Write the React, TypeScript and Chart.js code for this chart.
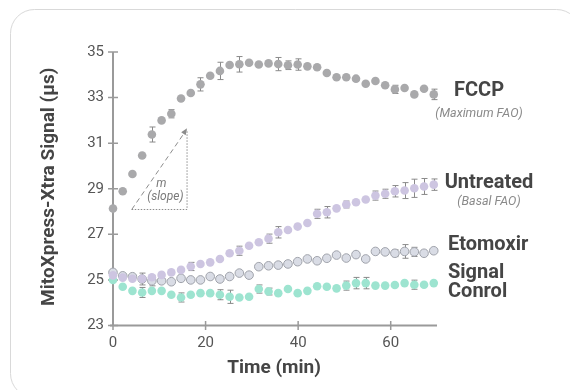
import { useEffect, useRef } from "react";
import { Chart, registerables } from "chart.js";
Chart.register(...registerables);

const times = [0, 2.1, 4.2, 6.3, 8.4, 10.5, 12.6, 14.7, 16.8, 18.9, 21, 23.1, 25.2, 27.3, 29.4, 31.5, 33.6, 35.7, 37.8, 39.9, 42, 44.1, 46.2, 48.3, 50.4, 52.5, 54.6, 56.7, 58.8, 60.9, 63, 65.1, 67.2, 69.3];

const fccp = [28.13, 28.89, 29.65, 30.46, 31.38, 32.0, 32.29, 32.96, 33.2, 33.58, 33.96, 34.17, 34.43, 34.46, 34.53, 34.45, 34.5, 34.47, 34.42, 34.45, 34.37, 34.33, 34.08, 33.89, 33.89, 33.83, 33.61, 33.73, 33.54, 33.36, 33.42, 33.14, 33.39, 33.14];
const fccpErr = [0, 0, 0, 0, 0.33, 0, 0.18, 0, 0, 0.29, 0, 0.38, 0, 0.34, 0, 0, 0, 0.29, 0.19, 0.25, 0, 0, 0, 0, 0, 0, 0, 0, 0, 0.18, 0, 0, 0, 0.23];

const untreated = [25.2, 25.1, 25.05, 25.05, 25.12, 25.22, 25.33, 25.44, 25.59, 25.7, 25.77, 25.92, 26.17, 26.28, 26.5, 26.65, 26.81, 27.09, 27.19, 27.34, 27.5, 27.9, 27.97, 28.14, 28.31, 28.41, 28.53, 28.7, 28.78, 28.89, 28.92, 29.02, 29.1, 29.18];
const untreatedErr = [0, 0, 0, 0, 0, 0, 0, 0, 0.18, 0, 0, 0, 0, 0.2, 0, 0, 0.2, 0.25, 0, 0, 0, 0.2, 0.25, 0, 0.15, 0, 0, 0.2, 0.2, 0.25, 0.35, 0.4, 0.35, 0.25];

const etomoxir = [25.33, 25.18, 25.14, 25.04, 24.96, 24.96, 24.92, 25.07, 25.0, 25.0, 25.15, 25.04, 25.15, 25.3, 25.21, 25.58, 25.62, 25.65, 25.7, 25.8, 25.92, 25.84, 25.95, 26.09, 25.96, 26.11, 25.92, 26.25, 26.23, 26.17, 26.25, 26.23, 26.17, 26.28];
const etomoxirErr = [0, 0, 0, 0.26, 0.22, 0, 0, 0, 0, 0, 0, 0, 0, 0, 0, 0, 0, 0, 0, 0, 0, 0, 0, 0, 0, 0, 0, 0, 0, 0.15, 0.3, 0.2, 0, 0];

const signalControl = [25.0, 24.7, 24.52, 24.45, 24.52, 24.52, 24.35, 24.23, 24.35, 24.42, 24.42, 24.35, 24.26, 24.23, 24.26, 24.6, 24.49, 24.42, 24.6, 24.42, 24.52, 24.72, 24.7, 24.63, 24.75, 24.86, 24.86, 24.75, 24.75, 24.78, 24.86, 24.79, 24.79, 24.86];
const signalControlErr = [0, 0, 0, 0.22, 0, 0, 0, 0.2, 0, 0, 0, 0.22, 0.29, 0, 0, 0.18, 0.15, 0, 0, 0, 0, 0, 0, 0, 0.2, 0.25, 0.25, 0, 0, 0, 0, 0.2, 0, 0];

const xTicks = [0, 20, 40, 60];
const yTicks = [23, 25, 27, 29, 31, 33, 35];

const slopeStart = { x: 4.05, y: 28.09 };
const slopeEnd = { x: 16.0, y: 31.65 };

const FONT = "Roboto, 'Noto Sans', sans-serif";

const toPts = (ys: number[]) => ys.map((y, i) => ({ x: times[i], y }));

const errMap: Record<string, number[]> = {
  FCCP: fccpErr,
  Untreated: untreatedErr,
  Etomoxir: etomoxirErr,
  "Signal Control": signalControlErr,
};

const cardPlugin = {
  id: "card",
  beforeDraw(chart: any) {
    const ctx = chart.ctx;
    ctx.save();
    ctx.fillStyle = "#ffffff";
    ctx.fillRect(0, 0, chart.width, chart.height);
    ctx.beginPath();
    ctx.roundRect(10.5, 9.5, 570, 388, 24);
    ctx.strokeStyle = "#d9d9d9";
    ctx.lineWidth = 1;
    ctx.stroke();
    ctx.restore();
  },
};

const errorBarPlugin = {
  id: "errorBars",
  beforeDatasetsDraw(chart: any) {
    const ctx = chart.ctx;
    const xs = chart.scales.x;
    const ys = chart.scales.y;
    ctx.save();
    ctx.strokeStyle = "#8a8a8a";
    ctx.lineWidth = 1;
    chart.data.datasets.forEach((ds: any) => {
      const errs = errMap[ds.label];
      if (!errs) return;
      ds.data.forEach((p: any, i: number) => {
        const e = errs[i];
        if (!e) return;
        const px = Math.round(xs.getPixelForValue(p.x)) + 0.5;
        const top = ys.getPixelForValue(p.y + e);
        const bot = ys.getPixelForValue(p.y - e);
        ctx.beginPath();
        ctx.moveTo(px, top);
        ctx.lineTo(px, bot);
        ctx.moveTo(px - 3, top);
        ctx.lineTo(px + 3, top);
        ctx.moveTo(px - 3, bot);
        ctx.lineTo(px + 3, bot);
        ctx.stroke();
      });
    });
    ctx.restore();
  },
};

const overlayPlugin = {
  id: "overlay",
  beforeDatasetsDraw(chart: any) {
    const ctx = chart.ctx;
    const xs = chart.scales.x;
    const ys = chart.scales.y;
    const area = chart.chartArea;
    ctx.save();
    // axes
    ctx.strokeStyle = "#9a9a9a";
    ctx.lineWidth = 2;
    const x0 = xs.getPixelForValue(0);
    const yb = ys.getPixelForValue(23);
    ctx.beginPath();
    ctx.moveTo(x0, ys.getPixelForValue(35));
    ctx.lineTo(x0, yb + 1);
    ctx.moveTo(x0 - 3, yb);
    ctx.lineTo(area.right, yb);
    ctx.stroke();
    ctx.lineWidth = 1.5;
    ctx.beginPath();
    yTicks.forEach((v) => {
      const py = ys.getPixelForValue(v);
      ctx.moveTo(x0 - 5, py);
      ctx.lineTo(x0 + 5, py);
    });
    xTicks.forEach((v) => {
      const px = xs.getPixelForValue(v);
      ctx.moveTo(px, yb - 4.5);
      ctx.lineTo(px, yb + 4.5);
    });
    ctx.stroke();

    // slope annotation
    const sx = xs.getPixelForValue(slopeStart.x);
    const sy = ys.getPixelForValue(slopeStart.y);
    const ex = xs.getPixelForValue(slopeEnd.x);
    const ey = ys.getPixelForValue(slopeEnd.y);
    ctx.strokeStyle = "#8c8c8c";
    ctx.lineWidth = 1;
    ctx.setLineDash([1.5, 1.5]);
    ctx.beginPath();
    ctx.moveTo(sx, sy);
    ctx.lineTo(ex, sy);
    ctx.lineTo(ex, ey + 3);
    ctx.stroke();
    ctx.setLineDash([5, 3.5]);
    ctx.beginPath();
    ctx.moveTo(sx, sy);
    ctx.lineTo(ex - 1, ey + 2);
    ctx.stroke();
    ctx.setLineDash([]);
    const ang = Math.atan2(ey - sy, ex - sx);
    ctx.fillStyle = "#8c8c8c";
    ctx.beginPath();
    ctx.moveTo(ex, ey);
    ctx.lineTo(ex - 7 * Math.cos(ang - 0.4), ey - 7 * Math.sin(ang - 0.4));
    ctx.lineTo(ex - 7 * Math.cos(ang + 0.4), ey - 7 * Math.sin(ang + 0.4));
    ctx.closePath();
    ctx.fill();
    ctx.fillStyle = "#7a7a7a";
    ctx.font = `italic 12px ${FONT}`;
    ctx.textAlign = "center";
    ctx.textBaseline = "middle";
    ctx.fillText("m", (sx + ex) / 2 + 2, sy - 25);
    ctx.fillText("(slope)", (sx + ex) / 2 + 6, sy - 12);
    ctx.restore();
  },
  afterDraw(chart: any) {
    const ctx = chart.ctx;
    const area = chart.chartArea;
    ctx.save();
    ctx.fillStyle = "#454545";
    ctx.font = `bold 19px ${FONT}`;
    ctx.textAlign = "center";
    ctx.textBaseline = "middle";
    ctx.fillText("Time (min)", (area.left + area.right) / 2 - 1, 368);
    ctx.save();
    ctx.translate(49, (area.top + area.bottom) / 2 - 2);
    ctx.rotate(-Math.PI / 2);
    ctx.fillText("MitoXpress-Xtra Signal (\u00b5s)", 0, 0);
    ctx.restore();

    // series labels
    ctx.font = `bold 20px ${FONT}`;
    ctx.fillText("FCCP", 479, 91);
    ctx.fillText("Untreated", 489, 183);
    ctx.textAlign = "left";
    ctx.fillText("Etomoxir", 448, 245);
    ctx.fillText("Signal", 448, 273);
    ctx.fillText("Conrol", 448, 292);
    ctx.textAlign = "center";
    ctx.fillStyle = "#8a8a8a";
    ctx.font = `italic 12.5px ${FONT}`;
    ctx.fillText("(Maximum FAO)", 479, 114);
    ctx.fillText("(Basal FAO)", 489, 202);
    ctx.restore();
  },
};

export default function App() {
  const ref = useRef<HTMLCanvasElement | null>(null);
  useEffect(() => {
    if (!ref.current) return;
    const chart = new Chart(ref.current, {
      type: "scatter",
      data: {
        datasets: [
          {
            label: "FCCP",
            data: toPts(fccp),
            backgroundColor: "#a9a9ab",
            borderColor: "#a9a9ab",
            pointRadius: 4.3,
            pointBorderWidth: 0,
            clip: false,
          },
          {
            label: "Untreated",
            data: toPts(untreated),
            backgroundColor: "#cdc5e1",
            borderColor: "#cdc5e1",
            pointRadius: 4.3,
            pointBorderWidth: 0,
            clip: false,
          },
          {
            label: "Signal Control",
            data: toPts(signalControl),
            backgroundColor: "#9de4d0",
            borderColor: "#9de4d0",
            pointRadius: 4.3,
            pointBorderWidth: 0,
            clip: false,
          },
          {
            label: "Etomoxir",
            data: toPts(etomoxir),
            backgroundColor: "#d9dce5",
            borderColor: "#a0a3ab",
            pointRadius: 4.3,
            pointBorderWidth: 1,
            clip: false,
          },
        ],
      } as any,
      options: {
        responsive: false,
        animation: false,
        devicePixelRatio: 1,
        layout: { padding: { top: 52, right: 133, left: 0, bottom: 0 } },
        plugins: {
          legend: { display: false },
          tooltip: { enabled: false },
        },
        scales: {
          x: {
            type: "linear",
            min: 0,
            max: 70,
            grid: { display: false, drawTicks: false },
            border: { display: false },
            afterBuildTicks: (s: any) => {
              s.ticks = xTicks.map((v) => ({ value: v }));
            },
            afterFit: (s: any) => {
              s.height = 64.5;
            },
            ticks: {
              padding: 9,
              color: "#555555",
              font: { family: FONT, size: 15 },
            },
          },
          y: {
            type: "linear",
            min: 23,
            max: 35,
            grid: { display: false, drawTicks: false },
            border: { display: false },
            afterBuildTicks: (s: any) => {
              s.ticks = yTicks.map((v) => ({ value: v }));
            },
            afterFit: (s: any) => {
              s.width = 113;
            },
            ticks: {
              padding: 9,
              color: "#555555",
              font: { family: FONT, size: 15 },
            },
          },
        },
      } as any,
      plugins: [cardPlugin, errorBarPlugin, overlayPlugin],
    });
    return () => chart.destroy();
  }, []);
  return (
    <div style={{ position: "fixed", left: 0, top: 0, width: 570, height: 390, background: "#fff" }}>
      <canvas ref={ref} width={570} height={390} style={{ display: "block", width: 570, height: 390 }} />
    </div>
  );
}
